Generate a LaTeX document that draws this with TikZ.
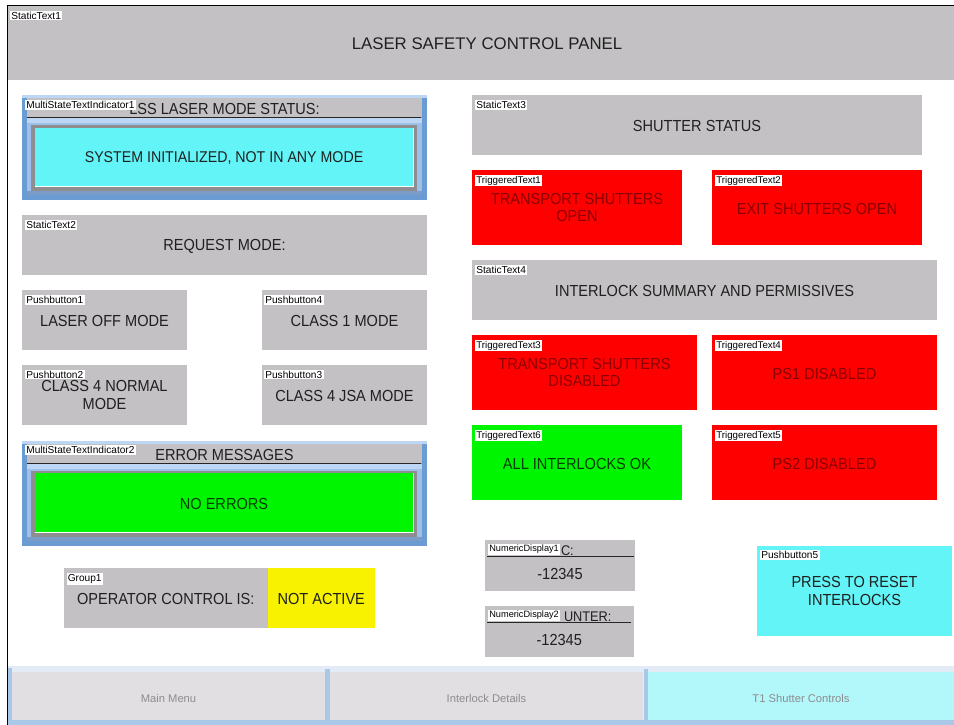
\documentclass[tikz,border=0pt]{standalone}
\usepackage{fontspec}
\setmainfont{Liberation Sans}
\newfontfamily\panelfont[FakeStretch=0.91]{Liberation Sans}
\definecolor{panelgray}{HTML}{C3C1C3}
\definecolor{alarmred}{HTML}{FF0000}
\definecolor{okgreen}{HTML}{00F500}
\definecolor{hmicyan}{HTML}{62F4F6}
\definecolor{hmiyellow}{HTML}{F8F200}
\definecolor{frameblue}{HTML}{6A9BD2}
\definecolor{framelight}{HTML}{BCD6F4}
\definecolor{framemid}{HTML}{9DBFE8}
\definecolor{framedark}{HTML}{7C9CC8}
\definecolor{framegray}{HTML}{8E8E90}
\definecolor{navband}{HTML}{E3EBF7}
\definecolor{navedge}{HTML}{A9C8E8}
\definecolor{navbtn}{HTML}{E1DFE2}
\definecolor{navcyan}{HTML}{B2F7FA}
\definecolor{navtext}{HTML}{8E8C90}
\definecolor{redtext}{HTML}{8A0000}
\definecolor{bodytext}{HTML}{202020}
\newcommand{\hmibox}[7][]{%
  \pgfmathsetlengthmacro{\bw}{(#4-#2)*0.75pt}%
  \pgfmathsetlengthmacro{\bh}{(#5-#3)*0.75pt}%
  \node[boxbase,#1,minimum width=\bw,minimum height=\bh] (#6) at ({(#2+#4)/2},{-(#3+#5)/2}) {#7};}
\newcommand{\hmistrip}[5]{\fill[#5] (#1,-#2) rectangle (#3,-#4);}
\tikzset{
  x=0.75pt,y=0.75pt,
  boxbase/.style={draw=none,inner sep=0pt,outer sep=0pt,align=center,font=\panelfont\fontsize{12}{12.9}\selectfont,text=bodytext,execute at begin node={\rule{0pt}{10.3pt}}},
  graybox/.style={fill=panelgray},
  redbox/.style={fill=alarmred,text=redtext},
  greenbox/.style={fill=okgreen,text=black!75!okgreen},
  cyanbox/.style={fill=hmicyan},
  yellowbox/.style={fill=hmiyellow},
  titlebox/.style={fill=panelgray,font=\normalfont\fontsize{12.6}{13}\selectfont},
  tagbox/.style={fill=white,inner xsep=1pt,inner ysep=0.9pt,outer sep=0pt,anchor=north west,font=\normalfont\fontsize{7.6}{8}\selectfont,text=black},
  trigtag/.style={tagbox,font=\normalfont\fontsize{7.3}{8}\selectfont},
  numtag/.style={tagbox,font=\normalfont\fontsize{6.9}{8}\selectfont},
  navbox/.style={fill=navbtn,text=navtext,font=\normalfont\fontsize{8.4}{9}\selectfont,execute at begin node={}},
  smallhead/.style={boxbase,anchor=west,font=\panelfont\fontsize{10.5}{10.5}\selectfont,execute at begin node={}},
  rulebk/.style={draw=black!85,line width=0.75pt},
}
\begin{document}
\begin{tikzpicture}
\useasboundingbox (0,0) rectangle (954,-725);
\fill[white] (0,0) rectangle (954,-725);
\coordinate (bl) at (7.5,-725);
\coordinate (tl) at (7.5,-5.5);
\coordinate (tr) at (954,-5.5);
\draw[black,line width=0.9pt] (bl) -- (tl) -- (tr);
% title
\hmibox[titlebox]{8}{6}{954}{80}{title}{\hspace*{9pt}LASER SAFETY CONTROL PANEL}
\node[tagbox] (t1) at (10,-10.5) {StaticText1};
% indicator 1
\hmistrip{22}{95}{427}{200}{frameblue}
\hmistrip{22}{95}{427}{98}{framelight}
\hmibox[graybox]{27}{98}{422}{117}{ms1head}{LSS LASER MODE STATUS:}
\coordinate (ms1a) at (27,-117.5); \coordinate (ms1b) at (421,-117.5);
\draw[rulebk] (ms1a) -- (ms1b);
\hmistrip{27}{118}{422}{195}{framemid}
\hmistrip{27}{118}{422}{123}{framelight}
\hmistrip{27}{191}{422}{195}{framedark}
\hmistrip{31}{125}{417}{191}{framegray}
\hmistrip{35}{128}{414}{187}{white}
\hmibox[cyanbox,font=\panelfont\fontsize{11.7}{12.9}\selectfont]{35}{128}{413}{185.5}{ms1val}{SYSTEM INITIALIZED, NOT IN ANY MODE}
\node[tagbox] (t2) at (25,-100) {MultiStateTextIndicator1};
% request
\hmibox[graybox]{22}{215}{427}{275}{req}{REQUEST MODE:}
\node[tagbox] (t3) at (25,-220) {StaticText2};
\hmibox[graybox]{22}{290}{187}{350}{pb1}{LASER OFF MODE}
\node[tagbox] (t4) at (25,-295) {Pushbutton1};
\hmibox[graybox]{262}{290}{427}{350}{pb4}{CLASS 1 MODE}
\node[tagbox] (t5) at (264,-295) {Pushbutton4};
\hmibox[graybox]{22}{365}{187}{425}{pb2}{CLASS 4 NORMAL\\MODE}
\node[tagbox] (t6) at (25,-369.5) {Pushbutton2};
\hmibox[graybox]{262}{365}{427}{425}{pb3}{CLASS 4 JSA MODE}
\node[tagbox] (t7) at (264,-369.5) {Pushbutton3};
% indicator 2
\hmistrip{22}{441}{427}{546}{frameblue}
\hmistrip{22}{441}{427}{444}{framelight}
\hmibox[graybox]{27}{444}{422}{463}{ms2head}{ERROR MESSAGES}
\coordinate (ms2a) at (27,-463.5); \coordinate (ms2b) at (421,-463.5);
\draw[rulebk] (ms2a) -- (ms2b);
\hmistrip{27}{464}{422}{541}{framemid}
\hmistrip{27}{464}{422}{469}{framelight}
\hmistrip{27}{537}{422}{541}{framedark}
\hmistrip{31}{471}{417}{537}{framegray}
\hmistrip{35}{473}{414}{533}{white}
\hmibox[greenbox]{35}{473}{413}{531.5}{ms2val}{NO ERRORS}
\node[tagbox] (t8) at (25,-445) {MultiStateTextIndicator2};
% operator
\hmibox[graybox]{64}{568}{267.5}{628}{op}{OPERATOR CONTROL IS:}
\hmibox[yellowbox]{267.5}{568}{375}{628}{opv}{NOT ACTIVE}
\node[tagbox] (t9) at (66.5,-573) {Group1};
% right column
\hmibox[graybox]{472}{95}{922}{155}{shut}{SHUTTER STATUS}
\node[tagbox] (t10) at (475,-100) {StaticText3};
\hmibox[redbox]{472}{170}{682}{245}{tt1}{TRANSPORT SHUTTERS\\OPEN}
\node[trigtag] (t11) at (475,-175) {TriggeredText1};
\hmibox[redbox]{712}{170}{922}{245}{tt2}{EXIT SHUTTERS OPEN}
\node[trigtag] (t12) at (715,-175) {TriggeredText2};
\hmibox[graybox]{472}{260}{937}{320}{ilk}{INTERLOCK SUMMARY AND PERMISSIVES}
\node[tagbox] (t13) at (475,-265) {StaticText4};
\hmibox[redbox]{472}{335}{697}{410}{tt3}{TRANSPORT SHUTTERS\\DISABLED}
\node[trigtag] (t14) at (475,-340) {TriggeredText3};
\hmibox[redbox]{712}{335}{937}{410}{tt4}{PS1 DISABLED}
\node[trigtag] (t15) at (715,-340) {TriggeredText4};
\hmibox[greenbox]{472}{425}{682}{500}{tt6}{ALL INTERLOCKS OK}
\node[trigtag] (t16) at (475,-430) {TriggeredText6};
\hmibox[redbox]{712}{425}{937}{500}{tt5}{PS2 DISABLED}
\node[trigtag] (t17) at (715,-430) {TriggeredText5};
% numeric displays
\hmibox[graybox]{485}{540}{635}{591}{nd1}{\raisebox{-11.5pt}{-12345}}
\coordinate (nd1a) at (487,-556.5); \coordinate (nd1b) at (633.5,-556.5);
\node[smallhead] (nd1h) at (561,-549) {C:};
\draw[rulebk] (nd1a) -- (nd1b);
\node[numtag] (t18) at (488,-544) {NumericDisplay1};
\hmibox[graybox]{485}{606}{633.5}{656.5}{nd2}{\raisebox{-11.5pt}{-12345}}
\coordinate (nd2a) at (487,-622.5); \coordinate (nd2b) at (631,-622.5);
\node[smallhead] (nd2h) at (564,-615) {UNTER:};
\draw[rulebk] (nd2a) -- (nd2b);
\node[numtag] (t19) at (488,-610) {NumericDisplay2};
\hmibox[cyanbox]{757}{546}{952}{636}{pb5}{PRESS TO RESET\\INTERLOCKS}
\node[tagbox] (t20) at (760,-550) {Pushbutton5};
% navigation bar
\hmistrip{8}{666}{954}{725}{navband}
\hmistrip{8}{720}{954}{725}{navedge}
\hmistrip{8}{668}{12}{722}{navedge}
\hmistrip{325}{669}{330}{722}{navedge}
\hmistrip{644}{669}{648}{722}{navedge}
\hmibox[navbox]{12}{672}{325}{719.5}{nav1}{Main Menu}
\hmibox[navbox]{330}{672}{643}{719.5}{nav2}{Interlock Details}
\hmibox[navbox,fill=navcyan]{648}{672}{954}{719.5}{nav3}{T1 Shutter Controls}
\end{tikzpicture}
\end{document}
